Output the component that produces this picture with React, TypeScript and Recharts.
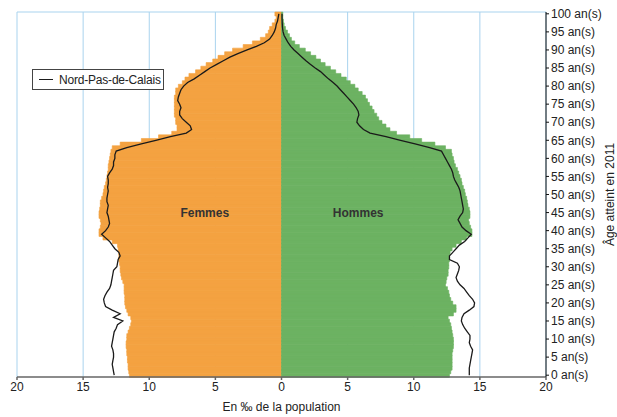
import {
  ComposedChart,
  Bar,
  Line,
  XAxis,
  YAxis,
  CartesianGrid,
  ReferenceDot,
  Label,
} from "recharts";

// ── Data (‰ of the population, by age reached in 2011) ────────────────────────

const AGES = Array.from({ length: 101 }, (_, i) => i);

const FEMMES = [
  11.5, 11.55, 11.6, 11.6, 11.65, 11.65, 11.7, 11.7, 11.75, 11.75,
  11.7, 11.7, 11.6, 11.5, 11.4, 11.35, 11.4, 11.6, 11.7, 11.8,
  11.85, 11.85, 11.85, 11.9, 11.9, 11.9, 12.0, 12.1, 12.15, 12.2,
  12.2, 12.25, 12.3, 12.3, 12.3, 12.35, 12.4, 12.8, 13.5, 13.8,
  13.8, 13.7, 13.65, 13.7, 13.8, 13.8, 13.75, 13.7, 13.7, 13.6,
  13.5, 13.45, 13.4, 13.3, 13.25, 13.2, 13.15, 13.1, 13.1, 13.05,
  13.0, 12.95, 12.9, 12.8, 12.2, 10.6, 9.3, 8.3, 7.9, 7.9,
  8.0, 8.0, 8.1, 8.1, 8.1, 8.1, 8.1, 8.1, 8.0, 8.0,
  7.8, 7.5, 7.3, 7.0, 6.5, 6.1, 5.7, 5.2, 4.8, 4.3,
  3.7, 2.9, 2.2, 1.6, 1.2, 1.0, 0.9, 0.7, 0.5, 0.4, 0.5,
];

const HOMMES = [
  12.7, 12.8, 12.9, 12.9, 12.9, 12.9, 12.9, 12.95, 13.0, 13.0,
  13.0, 12.95, 12.9, 12.85, 12.8, 12.7, 12.6, 13.0, 13.2, 13.2,
  12.95, 12.8, 12.7, 12.65, 12.55, 12.4, 12.45, 12.5, 12.6, 12.6,
  12.65, 12.65, 12.7, 12.7, 12.75, 12.9, 13.2, 13.6, 14.0, 14.4,
  14.4, 14.3, 14.2, 14.15, 14.25, 14.25, 14.2, 14.1, 14.05, 14.0,
  13.9, 13.85, 13.75, 13.65, 13.6, 13.5, 13.4, 13.3, 13.15, 13.05,
  13.0, 12.9, 12.85, 12.4, 11.6, 10.6, 9.7, 8.7, 8.2, 7.9,
  7.6, 7.35, 7.2, 7.0, 6.85, 6.65, 6.5, 6.35, 6.1, 5.8,
  5.55, 5.2, 4.9, 4.5, 4.1, 3.7, 3.3, 2.95, 2.6, 2.2,
  1.8, 1.35, 1.0, 0.75, 0.6, 0.45, 0.3, 0.2, 0.15, 0.1, 0.1,
];

const NPC_FEMMES = [
  12.65, 12.7, 12.75, 12.8, 12.75, 12.7, 12.7, 12.75, 12.85, 12.8,
  12.75, 12.7, 12.65, 12.5, 12.4, 12.0, 12.7, 12.2, 12.8, 13.3,
  13.4, 13.45, 13.35, 13.2, 13.0, 12.9, 12.85, 12.8, 12.75, 12.7,
  12.45, 12.4, 12.35, 12.2, 12.3, 12.6, 12.8, 13.0, 13.3, 13.6,
  13.3, 13.1, 13.0, 13.05, 13.1, 13.2, 13.15, 13.1, 13.2, 13.2,
  13.15, 13.1, 13.15, 13.1, 13.1, 13.15, 13.0, 12.8, 12.7, 12.7,
  12.6, 12.6, 12.5, 11.7, 10.6, 9.5, 8.4, 7.2, 6.8, 6.9,
  7.2, 7.5, 7.7, 7.7, 7.6, 7.7, 7.85, 7.8, 7.7, 7.6,
  7.4, 7.1, 6.6, 6.2, 5.8, 5.4, 4.9, 4.4, 3.9, 3.3,
  2.6, 1.9, 1.3, 0.9, 0.7, 0.55, 0.45, 0.4, 0.3, 0.25, 0.2,
];

const NPC_HOMMES = [
  14.2, 14.2, 14.2, 14.25, 14.3, 14.35, 14.4, 14.45, 14.3, 14.2,
  14.25, 14.25, 14.05, 13.85, 13.7, 13.6, 13.65, 13.8, 14.2, 14.55,
  14.6, 14.45, 14.2, 14.0, 13.8, 13.5, 13.3, 13.2, 13.3, 13.4,
  13.45, 13.3, 12.7, 12.7, 12.95, 13.2, 13.45, 13.85, 14.1, 14.35,
  13.95, 13.65, 13.5, 13.35, 13.5, 13.7, 13.75, 13.7, 13.65, 13.6,
  13.55, 13.5, 13.4, 13.25, 13.1, 13.0, 12.95, 12.85, 12.7, 12.55,
  12.4, 12.25, 12.1, 11.2, 10.1, 9.0, 7.9, 6.7, 6.2, 5.9,
  5.7, 5.75, 5.85, 5.8, 5.65, 5.45, 5.2, 4.95, 4.7, 4.45,
  4.2, 3.9, 3.55, 3.25, 2.95, 2.55, 2.2, 1.85, 1.55, 1.25,
  0.95, 0.7, 0.5, 0.35, 0.2, 0.12, 0.08, 0.06, 0.05, 0.04, 0.04,
];

const X_TICKS = [-20, -15, -10, -5, 0, 5, 10, 15, 20];

const ORANGE = "#F4A241";
const GREEN = "#6CB262";
const GRID = "#A9D3EE";
const FONT = "'Liberation Sans', Arial, sans-serif";

const rows = AGES.map((age, i) => ({
  age,
  femmes: -FEMMES[i],
  hommes: HOMMES[i],
  npcF: -NPC_FEMMES[i],
  npcH: NPC_HOMMES[i],
}));

// ── Chart ─────────────────────────────────────────────────────────────────────

export default function App() {
  return (
    <div
      style={{
        position: "absolute",
        left: 0,
        top: 0,
        width: 617,
        height: 417,
        background: "#fff",
        fontFamily: FONT,
      }}
    >
      <ComposedChart
        width={617}
        height={417}
        data={rows}
        layout="vertical"
        stackOffset="sign"
        barCategoryGap={0}
        margin={{ top: 12, right: 0, bottom: 0, left: 17 }}
      >
        <CartesianGrid
          stroke={GRID}
          strokeWidth={1}
          horizontalCoordinatesGenerator={({ offset }: any) => [offset.top]}
        />
        <XAxis
          type="number"
          domain={[-20, 20]}
          ticks={X_TICKS}
          tickFormatter={(v: number) => `${Math.abs(v)}`}
          height={40}
          stroke="#666"
          strokeWidth={1.5}
          tickSize={3}
          tick={{ fill: "#222", fontSize: 12, fontFamily: FONT }}
        >
          <Label
            value="En ‰ de la population"
            position="insideBottom"
            offset={6}
            style={{ fill: "#222", fontSize: 12, fontFamily: FONT }}
          />
        </XAxis>
        <YAxis
          type="category"
          dataKey="age"
          orientation="right"
          reversed
          interval={4}
          width={71}
          stroke="#111"
          tickSize={3}
          tickFormatter={(v: number) => `${v} an(s)`}
          tick={{ fill: "#222", fontSize: 12, fontFamily: FONT }}
        >
          <Label
            content={({ viewBox }: any) => {
              const x = viewBox.x + viewBox.width - 7;
              const y = viewBox.y + viewBox.height / 2;
              return (
                <text
                  x={x}
                  y={y}
                  transform={`rotate(-90 ${x} ${y})`}
                  textAnchor="middle"
                  dominantBaseline="central"
                  fill="#222"
                  fontSize={12}
                  fontFamily={FONT}
                >
                  Âge atteint en 2011
                </text>
              );
            }}
          />
        </YAxis>
        <Bar
          dataKey="femmes"
          stackId="p"
          fill={ORANGE}
          stroke={ORANGE}
          strokeWidth={0.6}
          isAnimationActive={false}
        />
        <Bar
          dataKey="hommes"
          stackId="p"
          fill={GREEN}
          stroke={GREEN}
          strokeWidth={0.6}
          isAnimationActive={false}
        />
        <Line
          dataKey="npcF"
          type="linear"
          stroke="#1a1a1a"
          strokeWidth={1.3}
          dot={false}
          isAnimationActive={false}
        />
        <Line
          dataKey="npcH"
          type="linear"
          stroke="#1a1a1a"
          strokeWidth={1.3}
          dot={false}
          isAnimationActive={false}
        />
        <ReferenceDot
          x={-5.8}
          y={45}
          r={0}
          fill="none"
          stroke="none"
          ifOverflow="visible"
          label={{
            value: "Femmes",
            position: "center",
            fill: "#333",
            fontSize: 12,
            fontWeight: "bold",
            fontFamily: FONT,
          }}
        />
        <ReferenceDot
          x={5.8}
          y={45}
          r={0}
          fill="none"
          stroke="none"
          ifOverflow="visible"
          label={{
            value: "Hommes",
            position: "center",
            fill: "#333",
            fontSize: 12,
            fontWeight: "bold",
            fontFamily: FONT,
          }}
        />
      </ComposedChart>
      <div
        style={{
          position: "absolute",
          left: 32,
          top: 69,
          width: 130,
          height: 19,
          border: "1px solid #444",
          background: "#fff",
          display: "flex",
          alignItems: "center",
          fontSize: 12,
          color: "#222",
          letterSpacing: -0.2,
        }}
      >
        <span
          style={{
            display: "inline-block",
            width: 14,
            height: 0,
            borderTop: "1.3px solid #1a1a1a",
            marginLeft: 6,
            marginRight: 6,
          }}
        />
        Nord-Pas-de-Calais
      </div>
    </div>
  );
}
